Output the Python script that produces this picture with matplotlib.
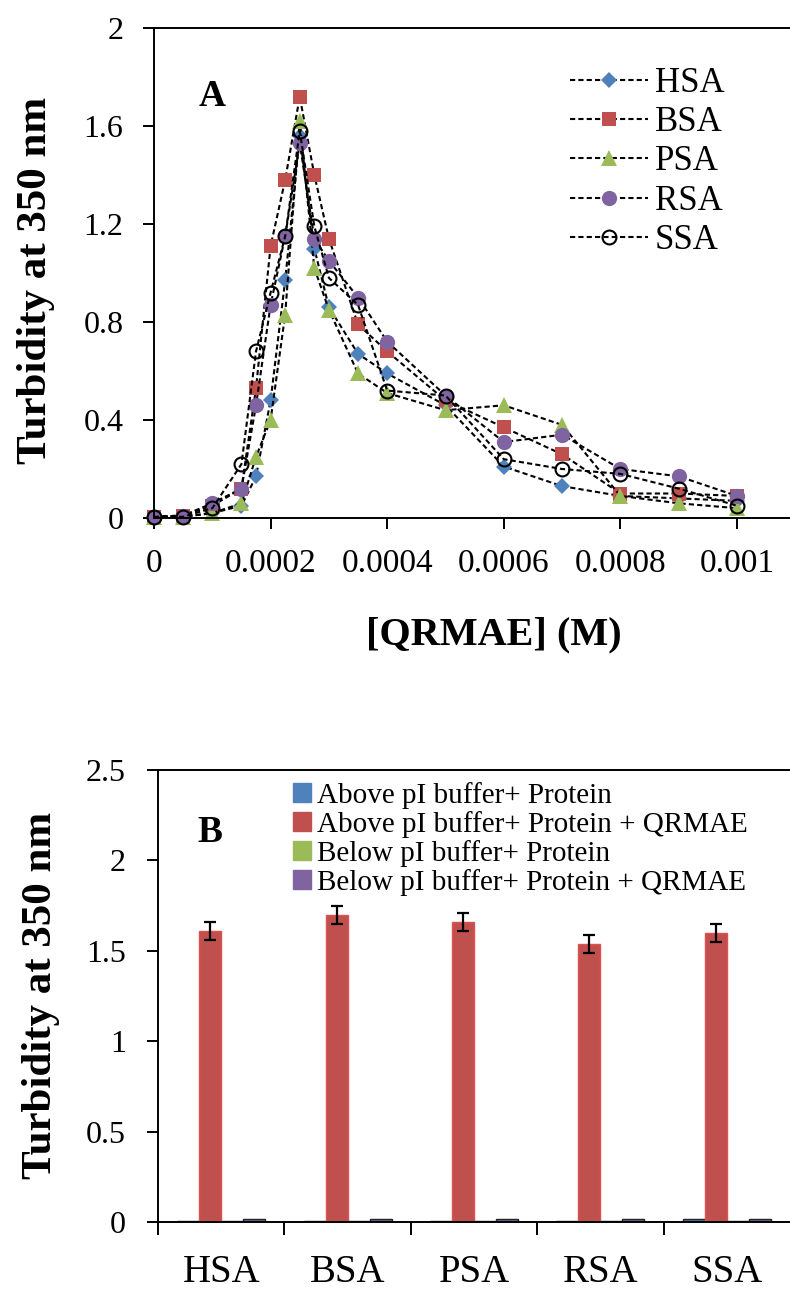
import matplotlib
matplotlib.use("Agg")
import matplotlib.pyplot as plt
import numpy as np

# ---- Panel A: turbidity vs. QRMAE concentration ----
conc = [0, 0.00005, 0.0001, 0.00015, 0.000175, 0.0002, 0.000225, 0.00025, 0.000275,
        0.0003, 0.00035, 0.0004, 0.0005, 0.0006, 0.0007, 0.0008, 0.0009, 0.001]
hsa = [0.005, 0.005, 0.02, 0.05, 0.17, 0.48, 0.97, 1.56, 1.10, 0.86, 0.67, 0.59, 0.46, 0.21, 0.13, 0.09, 0.08, 0.07]
bsa = [0.005, 0.01, 0.05, 0.12, 0.53, 1.11, 1.38, 1.72, 1.40, 1.14, 0.79, 0.68, 0.48, 0.37, 0.26, 0.10, 0.10, 0.09]
psa = [0.005, 0.005, 0.02, 0.06, 0.25, 0.40, 0.83, 1.62, 1.02, 0.85, 0.59, 0.51, 0.44, 0.46, 0.38, 0.09, 0.06, 0.04]
rsa = [0.005, 0.01, 0.06, 0.12, 0.46, 0.87, 1.15, 1.53, 1.14, 1.05, 0.90, 0.72, 0.50, 0.31, 0.34, 0.20, 0.17, 0.09]
ssa = [0.005, 0.005, 0.04, 0.22, 0.68, 0.92, 1.15, 1.58, 1.19, 0.98, 0.87, 0.52, 0.50, 0.24, 0.20, 0.18, 0.12, 0.05]
series_names = ["HSA", "BSA", "PSA", "RSA", "SSA"]
x_ticks = [0, 0.0002, 0.0004, 0.0006, 0.0008, 0.001]
x_tick_labels = ["0", "0.0002", "0.0004", "0.0006", "0.0008", "0.001"]
ya_ticks = [0, 0.4, 0.8, 1.2, 1.6, 2.0]
ya_tick_labels = ["0", "0.4", "0.8", "1.2", "1.6", "2"]

# ---- Panel B: turbidity above / below pI ----
proteins = ["HSA", "BSA", "PSA", "RSA", "SSA"]
above_protein = [0.006, 0.006, 0.006, 0.006, 0.014]
above_qrmae = [1.61, 1.70, 1.66, 1.54, 1.60]
above_qrmae_err = [0.05, 0.05, 0.05, 0.05, 0.05]
below_protein = [0.005, 0.005, 0.005, 0.005, 0.005]
below_qrmae = [0.017, 0.017, 0.017, 0.017, 0.017]
bar_labels = ["Above pI buffer+ Protein", "Above pI buffer+ Protein + QRMAE",
              "Below pI buffer+ Protein", "Below pI buffer+ Protein + QRMAE"]
yb_ticks = [0, 0.5, 1.0, 1.5, 2.0, 2.5]
yb_tick_labels = ["0", "0.5", "1", "1.5", "2", "2.5"]

BLUE, RED, GREEN, PURPLE = "#4F81BD", "#C0504D", "#9BBB59", "#8064A2"
SERIF = ["Liberation Serif", "DejaVu Serif"]
plt.rcParams["font.family"] = SERIF

W, H = 790, 1289
fig = plt.figure(figsize=(W / 100, H / 100), dpi=100)
fig.patch.set_facecolor("white")


def fx(px):
    return px / W


def fy(py):
    return 1 - py / H


def style_axes(ax):
    for s in ["left", "bottom", "top"]:
        ax.spines[s].set_linewidth(1.4)
        ax.spines[s].set_color("black")
    ax.spines["right"].set_visible(False)


# ---------------- Panel A ----------------
axA = fig.add_axes([fx(154), fy(518), fx(790 - 154), (518 - 28) / H])
style_axes(axA)
dash = (0, (2.5, 1.5))
styles = [
    dict(marker="D", ms=8.5, mfc=BLUE, mec=BLUE, mew=0),
    dict(marker="s", ms=10.5, mfc=RED, mec=RED, mew=0),
    dict(marker="^", ms=11, mfc=GREEN, mec=GREEN, mew=0),
    dict(marker="o", ms=11, mfc=PURPLE, mec=PURPLE, mew=0),
    dict(marker="o", ms=10, mfc="none", mec="black", mew=1.5),
]
for name, vals, st in zip(series_names, [hsa, bsa, psa, rsa, ssa], styles):
    axA.plot(conc, vals, color="black", lw=1.5, linestyle=dash, label=name,
             clip_on=False, **st)

axA.set_xlim(0, (790 - 154) / 583000)
axA.set_ylim(0, 2)
axA.set_xticks(x_ticks)
axA.set_xticklabels(x_tick_labels)
axA.set_yticks(ya_ticks)
axA.set_yticklabels(ya_tick_labels)
axA.tick_params(axis="x", direction="out", length=8, width=1.4, pad=14, labelsize=24)
axA.tick_params(axis="y", direction="out", length=8, width=1.4, pad=14, labelsize=23)

legA = axA.legend(loc="upper left", bbox_to_anchor=(fx(570), fy(67)),
                  bbox_transform=fig.transFigure, frameon=False, fontsize=25,
                  handlelength=2.25, handletextpad=0.2, labelspacing=0.18,
                  borderpad=0, borderaxespad=0)

fig.text(fx(212), fy(96), "A", fontsize=27, fontweight="bold", ha="center", va="center")
fig.text(fx(36), fy(280), "Turbidity at 350 nm", fontsize=31, fontweight="bold",
         rotation=90, ha="center", va="center")
fig.text(fx(494), fy(635), "[QRMAE] (M)", fontsize=29, fontweight="bold",
         ha="center", va="center")

# ---------------- Panel B ----------------
axB = fig.add_axes([fx(158), fy(1222), fx(790 - 158), (1222 - 770) / H])
style_axes(axB)
idx = np.arange(len(proteins))
bw = 0.174
groups = [above_protein, above_qrmae, below_protein, below_qrmae]
colors = [BLUE, RED, GREEN, PURPLE]
for k, (vals, c, lab) in enumerate(zip(groups, colors, bar_labels)):
    pos = idx + (k - 1.5) * bw
    if k == 1:
        axB.bar(pos, vals, width=bw, color=c, edgecolor="#E05050", linewidth=1.0, label=lab,
                yerr=above_qrmae_err, capsize=4,
                error_kw=dict(ecolor="black", elinewidth=1.6, capthick=1.6), zorder=2)
    else:
        axB.bar(pos, vals, width=bw, color=c, edgecolor="#222222", linewidth=1.0,
                label=lab, zorder=2)

axB.set_xlim(-0.5, len(proteins) - 0.5)
axB.set_ylim(0, 2.5)
axB.set_yticks(yb_ticks)
axB.set_yticklabels(yb_tick_labels)
axB.set_xticks(idx)
axB.set_xticklabels(proteins)
axB.set_xticks(np.arange(len(proteins)) - 0.5, minor=True)
axB.tick_params(axis="x", which="major", length=0, pad=23, labelsize=28)
axB.tick_params(axis="x", which="minor", direction="out", length=9, width=1.4)
axB.tick_params(axis="y", direction="out", length=8, width=1.4, pad=15, labelsize=23)

handles, labels = axB.get_legend_handles_labels()
legB = axB.legend(handles, labels, loc="upper left", bbox_to_anchor=(fx(293), fy(782)),
                  bbox_transform=fig.transFigure, frameon=False, fontsize=21,
                  handlelength=0.62, handleheight=0.62, handletextpad=0.2,
                  labelspacing=0.07, borderpad=0, borderaxespad=0)
for patch, c in zip(legB.get_patches(), colors):
    patch.set_edgecolor(c)

fig.text(fx(210), fy(832), "B", fontsize=27, fontweight="bold", ha="center", va="center")
fig.text(fx(41), fy(995), "Turbidity at 350 nm", fontsize=31, fontweight="bold",
         rotation=90, ha="center", va="center")

fig.savefig("out.png", dpi=100, facecolor="white")
